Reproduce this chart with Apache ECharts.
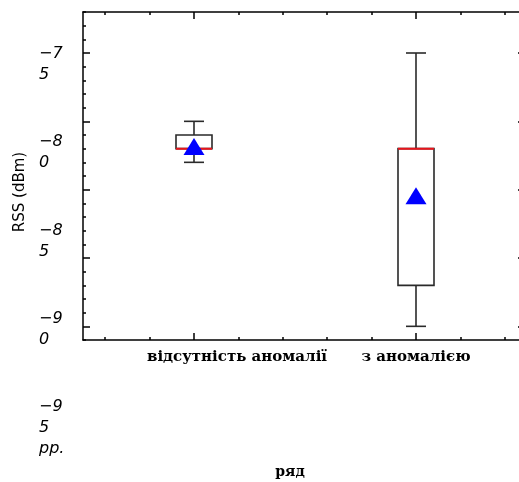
<!DOCTYPE html>
<html>
<head>
<meta charset="utf-8">
<script src="https://cdn.jsdelivr.net/npm/echarts@6/dist/echarts.min.js"></script>
<style>
  html, body { margin: 0; padding: 0; background: #fff; }
  #box_chart { width: 519px; height: 482px; }
</style>
</head>
<body>
<div id="box_chart"></div>
<script>
// categories and where they sit on the x axis
const categories = ['відсутність аномалії', 'з аномалією'];
const catPos = [1, 2];
const xMinorTicks = [0.6, 0.8, 1.2, 1.4, 1.6, 1.8, 2.2, 2.4];

// box statistics, dBm
const minVals = [-83, -95];
const q1Vals = [-82, -92];
const medianVals = [-82, -82];
const q3Vals = [-81, -82];
const maxVals = [-80, -75];
const meanVals = [-81.85, -85.45];

// y ticks
const yMajorTicks = [-95, -90, -85, -80, -75];
const yMinorTicks = [-96, -94, -93, -92, -91, -89, -88, -87, -86, -84, -83, -82, -81, -79, -78, -77, -76, -74, -73, -72];
const yTickLabels = ['−9\n5\npp.', '−9\n0', '−8\n5', '−8\n0', '−7\n5'];

const boxData = catPos.map(function (x, i) {
  return [x, minVals[i], q1Vals[i], medianVals[i], q3Vals[i], maxVals[i]];
});
const meanData = catPos.map(function (x, i) { return [x, meanVals[i]]; });

const axisColor = '#000';
const serifFont = '"DejaVu Serif", serif';
const labelSize = 15;

function renderBox(params, api) {
  const x = api.value(0);
  const lo = api.coord([x, api.value(1)]);
  const q1 = api.coord([x, api.value(2)]);
  const med = api.coord([x, api.value(3)]);
  const q3 = api.coord([x, api.value(4)]);
  const hi = api.coord([x, api.value(5)]);
  const bw = 18, cw = 10;
  const st = { stroke: '#2a2a2a', lineWidth: 1.6, fill: null };
  function ln(x1, y1, x2, y2, s) {
    return { type: 'line', shape: { x1: x1, y1: y1, x2: x2, y2: y2 }, style: s || st };
  }
  return {
    type: 'group',
    children: [
      ln(hi[0], hi[1], q3[0], q3[1]),
      ln(hi[0] - cw, hi[1], hi[0] + cw, hi[1]),
      ln(q1[0], q1[1], lo[0], lo[1]),
      ln(lo[0] - cw, lo[1], lo[0] + cw, lo[1]),
      { type: 'rect', shape: { x: q3[0] - bw, y: q3[1], width: bw * 2, height: q1[1] - q3[1] }, style: st },
      ln(med[0] - bw, med[1], med[0] + bw, med[1], { stroke: '#e8141b', lineWidth: 2 })
    ]
  };
}

const xBase = { gridIndex: 0, type: 'value', min: 0.5, max: 2.5, splitLine: { show: false } };
const yBase = { gridIndex: 0, type: 'value', min: -96, max: -72, splitLine: { show: false } };

let option = {
  animation: false,
  grid: [
    // plot frame runs past the right edge of the canvas
    { left: 83, top: 12, width: 444, height: 328, outerBoundsMode: 'none' },
    { left: 83, top: 43.5, width: 444, height: 353, outerBoundsMode: 'none' }
  ],
  xAxis: [
    Object.assign({}, xBase, {
      position: 'bottom',
      axisLine: { show: true, lineStyle: { color: axisColor, width: 1.5 } },
      axisTick: { show: true, inside: true, length: 7, customValues: catPos, lineStyle: { color: axisColor, width: 1.5 } },
      axisLabel: {
        customValues: catPos,
        margin: 10,
        color: '#000',
        fontFamily: serifFont,
        fontWeight: 'bold',
        fontSize: labelSize,
        formatter: function (v) {
          let i = catPos.indexOf(v);
          return i === 0 ? '{s|' + categories[i] + '}' : categories[i];
        },
        rich: { s: { padding: [0, 0, 0, 86], fontFamily: serifFont, fontWeight: 'bold', fontSize: labelSize, color: '#000' } }
      },
      name: 'ряд',
      nameLocation: 'middle',
      nameGap: 125,
      nameTextStyle: { color: '#000', fontFamily: serifFont, fontWeight: 'bold', fontSize: 14, padding: [0, 30, 0, 0] }
    }),
    Object.assign({}, xBase, {
      position: 'bottom',
      axisLine: { show: false },
      axisTick: { show: true, inside: true, length: 3, customValues: xMinorTicks, lineStyle: { color: axisColor, width: 1.5 } },
      axisLabel: { show: false }
    }),
    Object.assign({}, xBase, {
      position: 'top',
      axisLine: { show: true, lineStyle: { color: axisColor, width: 1.5 } },
      axisTick: { show: true, inside: true, length: 7, customValues: catPos, lineStyle: { color: axisColor, width: 1.5 } },
      axisLabel: { show: false }
    }),
    Object.assign({}, xBase, {
      position: 'top',
      axisLine: { show: false },
      axisTick: { show: true, inside: true, length: 3, customValues: xMinorTicks, lineStyle: { color: axisColor, width: 1.5 } },
      axisLabel: { show: false }
    }),
    { gridIndex: 1, type: 'value', min: 0, max: 1, show: false }
  ],
  yAxis: [
    Object.assign({}, yBase, {
      position: 'left',
      axisLine: { show: true, lineStyle: { color: axisColor, width: 1.5 } },
      axisTick: { show: true, inside: true, length: 7, customValues: yMajorTicks, lineStyle: { color: axisColor, width: 1.5 } },
      axisLabel: { show: false },
      name: 'RSS (dBm)',
      nameLocation: 'middle',
      nameGap: 55,
      nameRotate: 90,
      nameTextStyle: { color: '#000', fontFamily: '"DejaVu Sans", sans-serif', fontSize: 15, padding: [0, 32, 0, 0] }
    }),
    Object.assign({}, yBase, {
      position: 'left',
      axisLine: { show: false },
      axisTick: { show: true, inside: true, length: 3, customValues: yMinorTicks, lineStyle: { color: axisColor, width: 1.5 } },
      axisLabel: { show: false }
    }),
    Object.assign({}, yBase, {
      position: 'right',
      axisLine: { show: true, lineStyle: { color: axisColor, width: 1.5 } },
      axisTick: { show: true, inside: true, length: 9, customValues: yMajorTicks, lineStyle: { color: axisColor, width: 1.5 } },
      axisLabel: { show: false }
    }),
    // tick labels, drawn on their own taller axis
    {
      gridIndex: 1, type: 'value', min: -95, max: -75, position: 'left',
      axisLine: { show: false }, axisTick: { show: false }, splitLine: { show: false },
      axisLabel: {
        customValues: yMajorTicks,
        align: 'left',
        verticalAlign: 'top',
        margin: 44,
        lineHeight: 21,
        color: '#000',
        fontFamily: '"DejaVu Sans", sans-serif',
        fontStyle: 'italic',
        fontSize: 16,
        formatter: function (v) { return yTickLabels[yMajorTicks.indexOf(v)]; }
      }
    }
  ],
  series: [
    {
      type: 'custom',
      xAxisIndex: 0,
      yAxisIndex: 0,
      renderItem: renderBox,
      data: boxData,
      z: 2
    },
    {
      type: 'scatter',
      xAxisIndex: 0,
      yAxisIndex: 0,
      symbol: 'triangle',
      symbolSize: [21, 17],
      itemStyle: { color: '#0000ff', opacity: 1 },
      data: meanData,
      z: 3
    }
  ]
};

const boxChart = echarts.init(document.getElementById('box_chart'));
boxChart.setOption(option);
</script>
</body>
</html>
